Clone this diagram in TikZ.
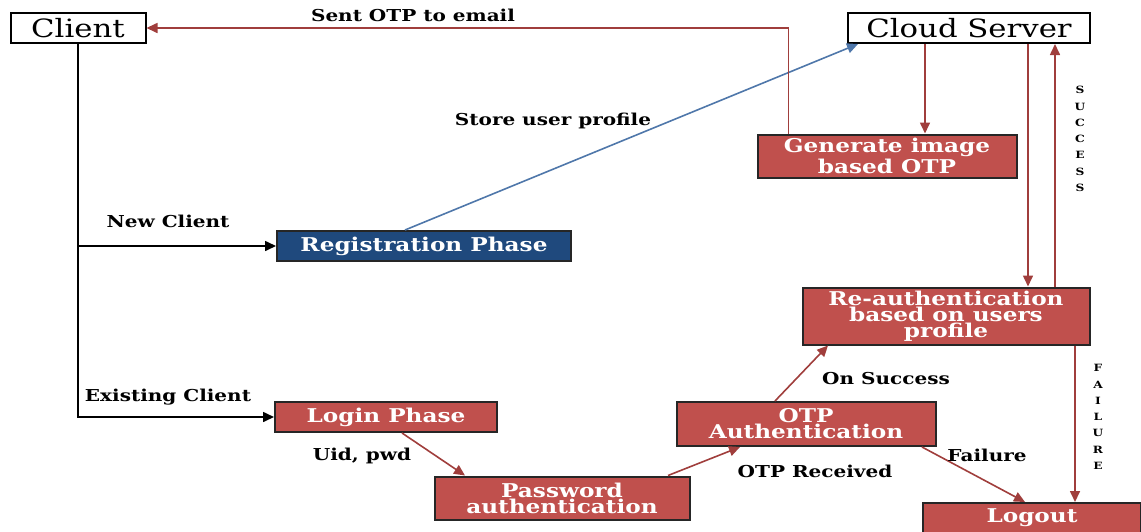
\documentclass[tikz,border=0pt]{standalone}
\usepackage{fontspec}
\setmainfont[FakeStretch=1.22]{DejaVu Serif}
\usetikzlibrary{arrows.meta,positioning}
\definecolor{otpred}{RGB}{192,80,77}
\definecolor{linkred}{RGB}{160,62,60}
\definecolor{regblue}{RGB}{31,73,125}
\definecolor{storeblue}{RGB}{79,119,170}

\begin{document}
\begin{tikzpicture}[x=0.5pt,y=-0.5pt,
 plain/.style={draw, line width=1pt, fill=white, font=\fontsize{12.6}{14}\selectfont, minimum height=15pt, inner sep=1pt},
 phase/.style={draw=black!85, line width=1pt, fill=otpred, text=white, align=center, font=\bfseries\fontsize{9.5}{8}\selectfont, inner sep=1pt},
 lbl/.style={font=\bfseries\fontsize{8.2}{9}\selectfont, inner sep=0pt},
 vlbl/.style={font=\bfseries\fontsize{5}{8.15}\selectfont, align=center, inner sep=0pt},
 rel/.style={-{Triangle[length=5.5pt,width=5pt]}, thick},
 redrel/.style={rel, linkred},
 bluerel/.style={rel, storeblue}]

 \path[use as bounding box, clip] (0,0) rectangle (1141,531);

 % --- Ujung atas ---
 \node[plain, minimum width=67.5pt] (client) at (78,28) {Client};
 \node[plain, minimum width=121pt] (cloud) at (969,28) {Cloud Server};

 % --- Kotak fase ---
 \node[phase, minimum width=129.5pt, minimum height=21.5pt] (genotp) at (887,156) {Generate image\\based OTP};
 \node[phase, fill=regblue, minimum width=147pt, minimum height=15pt] (reg) at (424,246) {Registration Phase};
 \node[phase, minimum width=111pt, minimum height=15pt] (login) at (386,417) {Login Phase};
 \node[phase, minimum width=127.5pt, minimum height=21.5pt] (pass) at (562,498) {Password\\authentication};
 \node[phase, minimum width=129.5pt, minimum height=22pt] (otpauth) at (806,424) {OTP\\Authentication};
 \node[phase, minimum width=143.5pt, minimum height=28.5pt] (reauth) at (946,316) {Re-authentication\\based on users\\profile};
 \node[phase, minimum width=109pt, minimum height=19pt, text depth=6pt] (logout) at (1032,522) {Logout};

 % --- Jalur klien ---
 \draw[rel] (client.south) -- (client.south |- login.west) -- (login.west);
 \draw[rel] (client.south |- reg.west) -- (reg.west);
 \node[lbl] (newc) at (168,221) {New Client};
 \node[lbl] (oldc) at (168,397) {Existing Client};

 % --- Server ---
 \draw[bluerel] ([xshift=-9.5pt]reg.north) -- ([xshift=-55.5pt]cloud.south);
 \node[lbl] (store) at (553,121) {Store user profile};
 \draw[redrel] ([xshift=-22pt]cloud.south) -- ([xshift=-22pt]cloud.south |- genotp.north);
 \draw[redrel] ([xshift=16pt]genotp.north west) |- (client.east);
 \node[lbl] (sent) at (413,15) {Sent OTP to email};
 \draw[redrel] ([xshift=29.5pt]cloud.south) -- ([xshift=29.5pt]cloud.south |- reauth.north);
 \draw[redrel] ([xshift=43pt]cloud.south |- reauth.north) -- ([xshift=43pt]cloud.south);
 \node[vlbl] (succ) at (1080,139) {S\\U\\C\\C\\E\\S\\S};

 % --- Login ---
 \draw[redrel] ([xshift=8pt]login.south) -- ([xshift=-48.5pt]pass.north);
 \node[lbl] (uid) at (362,456) {Uid, pwd};
 \draw[redrel] ([xshift=53pt]pass.north) -- ([xshift=-33pt]otpauth.south);
 \node[lbl] (recv) at (815,471) {OTP Received};
 \draw[redrel] ([xshift=-15.5pt]otpauth.north) -- ([xshift=-59pt]reauth.south);
 \node[lbl] (onsucc) at (886,379) {On Success};
 \draw[redrel] ([xshift=58pt]otpauth.south) -- ([xshift=-3.5pt]logout.north);
 \node[lbl] (fail) at (987,455) {Failure};
 \draw[redrel] ([xshift=64.5pt]reauth.south) -- ([xshift=64.5pt]reauth.south |- logout.north);
 \node[vlbl] (failv) at (1098,417) {F\\A\\I\\L\\U\\R\\E};
\end{tikzpicture}
\end{document}
